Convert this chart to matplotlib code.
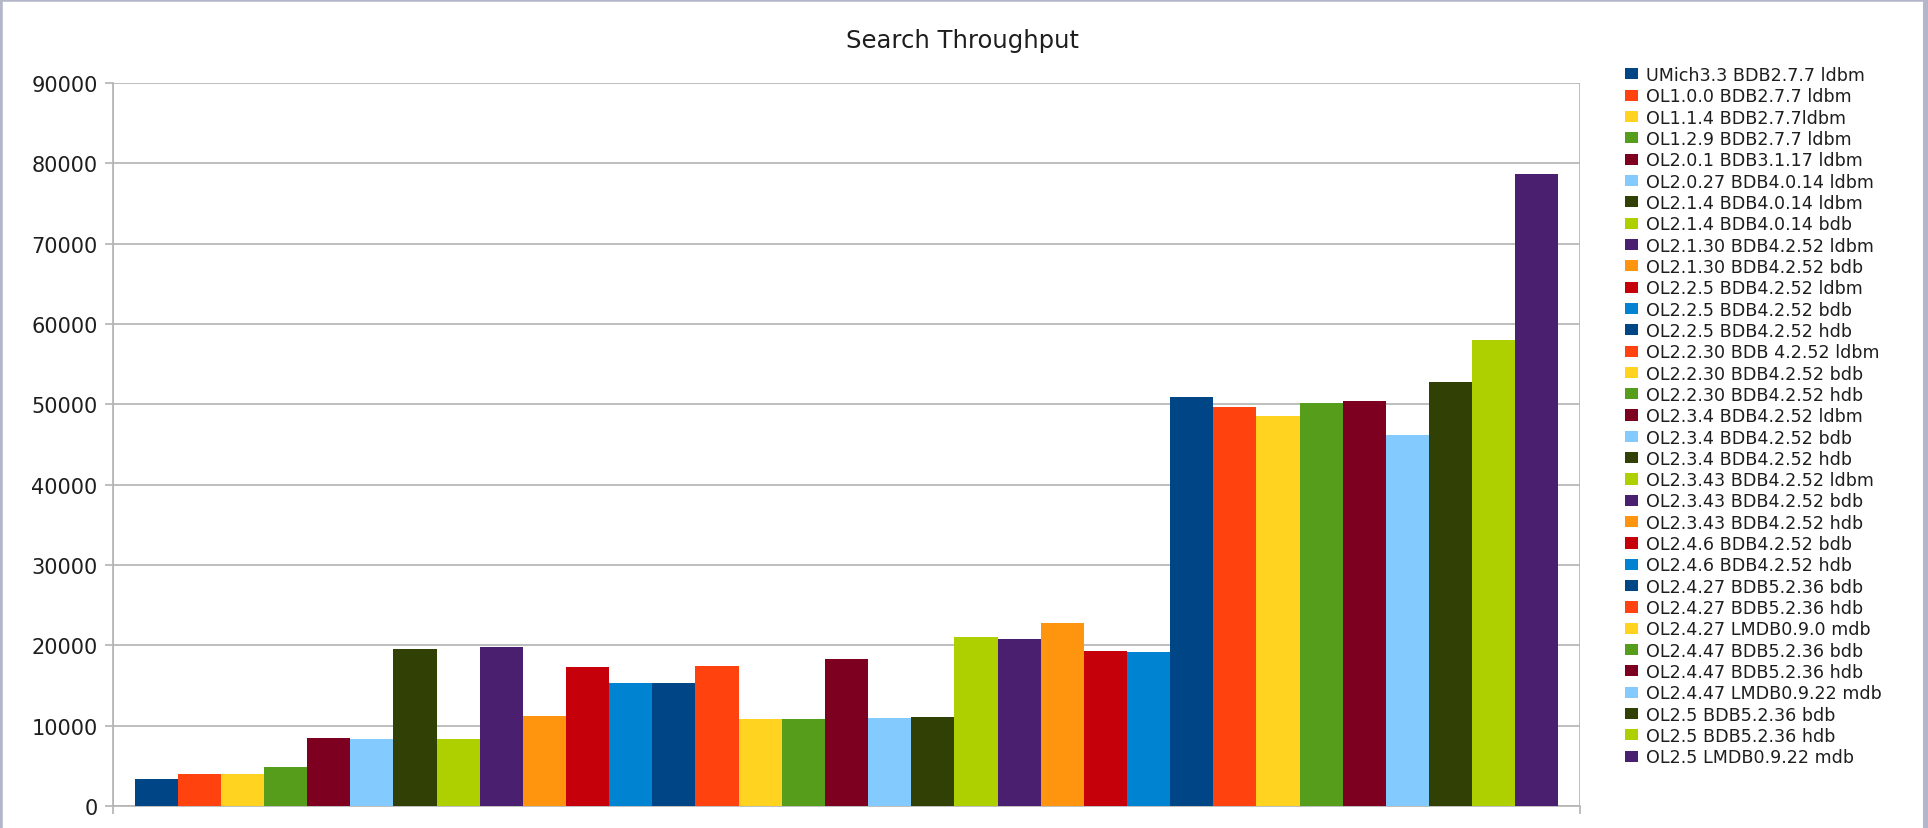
import numpy as np
import matplotlib.pyplot as plt
from matplotlib.patches import Patch
from matplotlib.lines import Line2D

# %%
title = "Search Throughput"

configs = [
    "UMich3.3 BDB2.7.7 ldbm",
    "OL1.0.0 BDB2.7.7 ldbm",
    "OL1.1.4 BDB2.7.7ldbm",
    "OL1.2.9 BDB2.7.7 ldbm",
    "OL2.0.1 BDB3.1.17 ldbm",
    "OL2.0.27 BDB4.0.14 ldbm",
    "OL2.1.4 BDB4.0.14 ldbm",
    "OL2.1.4 BDB4.0.14 bdb",
    "OL2.1.30 BDB4.2.52 ldbm",
    "OL2.1.30 BDB4.2.52 bdb",
    "OL2.2.5 BDB4.2.52 ldbm",
    "OL2.2.5 BDB4.2.52 bdb",
    "OL2.2.5 BDB4.2.52 hdb",
    "OL2.2.30 BDB 4.2.52 ldbm",
    "OL2.2.30 BDB4.2.52 bdb",
    "OL2.2.30 BDB4.2.52 hdb",
    "OL2.3.4 BDB4.2.52 ldbm",
    "OL2.3.4 BDB4.2.52 bdb",
    "OL2.3.4 BDB4.2.52 hdb",
    "OL2.3.43 BDB4.2.52 ldbm",
    "OL2.3.43 BDB4.2.52 bdb",
    "OL2.3.43 BDB4.2.52 hdb",
    "OL2.4.6 BDB4.2.52 bdb",
    "OL2.4.6 BDB4.2.52 hdb",
    "OL2.4.27 BDB5.2.36 bdb",
    "OL2.4.27 BDB5.2.36 hdb",
    "OL2.4.27 LMDB0.9.0 mdb",
    "OL2.4.47 BDB5.2.36 bdb",
    "OL2.4.47 BDB5.2.36 hdb",
    "OL2.4.47 LMDB0.9.22 mdb",
    "OL2.5 BDB5.2.36 bdb",
    "OL2.5 BDB5.2.36 hdb",
    "OL2.5 LMDB0.9.22 mdb",
]

# searches per second
throughput = [
    3300, 4000, 4000, 4800, 8450, 8350, 19550, 8300, 19800, 11200,
    17350, 15350, 15250, 17450, 10870, 10870, 18250, 10900, 11030, 21020,
    20850, 22760, 19290, 19200, 50950, 49650, 48600, 50200, 50420, 46200,
    52730, 58030, 78650,
]

yticks = [0, 10000, 20000, 30000, 40000, 50000, 60000, 70000, 80000, 90000]

# LibreOffice default chart palette
palette = ["#004586", "#ff420e", "#ffd320", "#579d1c", "#7e0021", "#83caff",
           "#314004", "#aecf00", "#4b1f6f", "#ff950e", "#c5000b", "#0084d1"]

# %%
plt.rcParams["font.family"] = ["DejaVu Sans"]
grid_col = "#b3b3b3"
text_col = "#1e1e1e"

fig = plt.figure(figsize=(19.28, 8.29), dpi=100)
ax = fig.add_axes([113 / 1928, 1 - 807 / 829, (1580 - 113) / 1928, (807 - 84) / 829])

x = np.arange(len(throughput))
colors = [palette[i % len(palette)] for i in range(len(throughput))]
ax.bar(x, throughput, width=1.0, color=colors, zorder=3)

ax.set_ylim(0, 90000)
ax.set_xlim(-1, len(throughput))
ax.set_yticks(yticks)
ax.set_yticklabels([str(v) for v in yticks], fontsize=15, color=text_col)
ax.set_xticks([-1, len(throughput)])
ax.set_xticklabels([])

ax.grid(True, axis="both", color=grid_col, linewidth=1.2, zorder=0)
for side in ["top", "right"]:
    ax.spines[side].set_visible(False)
for side in ["left", "bottom"]:
    ax.spines[side].set_color(grid_col)
    ax.spines[side].set_linewidth(1.2)
ax.tick_params(axis="y", length=6, width=1.2, color=grid_col, pad=5)
ax.tick_params(axis="x", length=6, width=1.2, color=grid_col)

fig.text(962 / 1928, 1 - 41 / 829, title, ha="center", va="center",
         fontsize=17.5, color=text_col)

handles = [Patch(facecolor=c, edgecolor="none") for c in colors]
fig.legend(handles, configs, loc="upper left",
           bbox_to_anchor=(1625 / 1928, 1 - 67 / 829),
           frameon=False, fontsize=12.6, labelcolor=text_col,
           borderpad=0, borderaxespad=0, handlelength=0.75, handleheight=0.6,
           handletextpad=0.45, labelspacing=0.19)

# screenshot frame
frame = "#b4b7c9"
fig.add_artist(Line2D([0, 0], [0, 1], transform=fig.transFigure, color=frame, lw=4))
fig.add_artist(Line2D([0, 1], [1, 1], transform=fig.transFigure, color=frame, lw=4))
fig.add_artist(Line2D([1, 1], [0, 1], transform=fig.transFigure, color=frame, lw=8))

fig.savefig("out.png", dpi=100)
